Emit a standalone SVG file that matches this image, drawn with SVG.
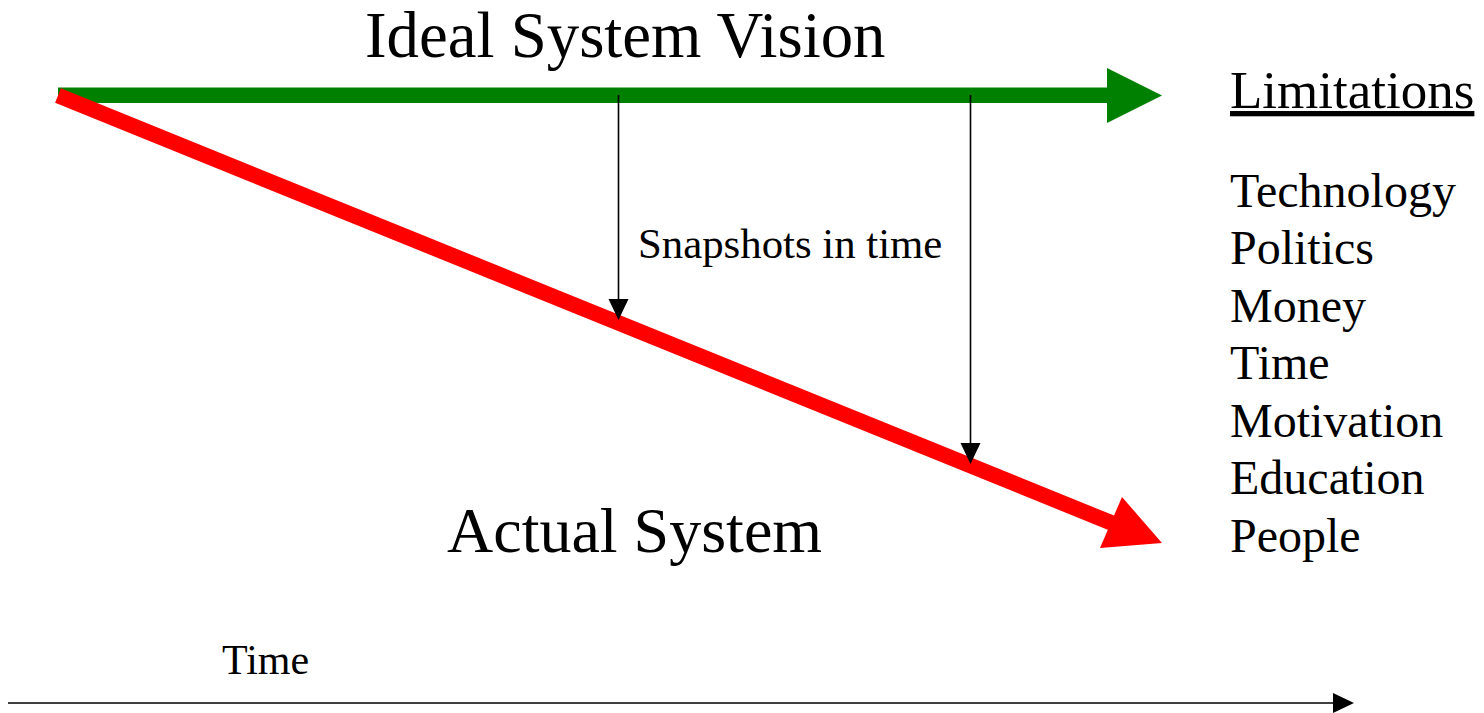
<svg xmlns="http://www.w3.org/2000/svg" width="1484" height="713" viewBox="0 0 1484 713">
<style>
text{font-family:"Liberation Serif","Times New Roman",serif;fill:#000}
.big{font-size:64px}
.lim{font-size:48px}
.small{font-size:42px}
.thin{stroke:#000;stroke-width:1.6;fill:none}
.head{fill:#000}
</style>
<rect width="1484" height="713" fill="#fff"/>
<g id="connectors">
  <g id="ideal-arrow">
    <rect x="58" y="87.5" width="1050" height="15.5" fill="#008000"/>
    <polygon points="1107,68 1162,95.5 1107,123" fill="#008000"/>
  </g>
  <g id="actual-arrow">
    <line x1="58" y1="95.5" x2="1113" y2="523.5" stroke="#ff0000" stroke-width="15.5"/>
    <polygon points="1122,497 1162,543 1100,548" fill="#ff0000"/>
  </g>
  <g id="snapshot-1">
    <line class="thin" x1="618.5" y1="95" x2="618.5" y2="301"/>
    <polygon class="head" points="608.5,299 628.5,299 618.5,320"/>
  </g>
  <g id="snapshot-2">
    <line class="thin" x1="970.5" y1="95" x2="970.5" y2="445"/>
    <polygon class="head" points="960.5,443 980.5,443 970.5,464"/>
  </g>
  <g id="time-axis">
    <line class="thin" x1="8" y1="703" x2="1335" y2="703"/>
    <polygon class="head" points="1333,693 1354,703 1333,713"/>
  </g>
</g>
<g id="ideal-label"><text class="big" x="365" y="57" style="font-size:64.8px">Ideal System Vision</text></g>
<g id="actual-label"><text class="big" x="447" y="552">Actual System</text></g>
<g id="snapshots-label"><text class="small" x="638" y="258" style="font-size:42.8px">Snapshots in time</text></g>
<g id="time-label"><text class="small" x="222" y="674">Time</text></g>
<g id="limitations">
  <text x="1230" y="108" style="font-size:53px;text-decoration:underline">Limitations</text>
  <text class="lim" x="1230" y="207">Technology</text>
  <text class="lim" x="1230" y="264">Politics</text>
  <text class="lim" x="1230" y="322">Money</text>
  <text class="lim" x="1230" y="379">Time</text>
  <text class="lim" x="1230" y="437">Motivation</text>
  <text class="lim" x="1230" y="494">Education</text>
  <text class="lim" x="1230" y="552">People</text>
</g>
</svg>
